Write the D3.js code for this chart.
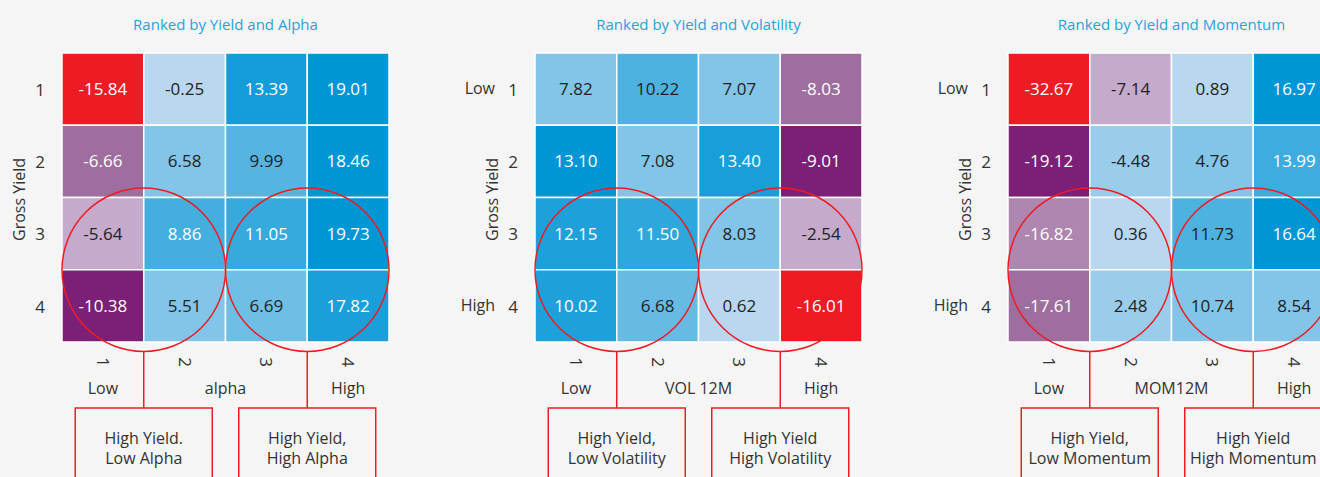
<!DOCTYPE html>
<html>
<head>
<meta charset="utf-8">
<script src="https://cdn.jsdelivr.net/npm/d3@7"></script>
<style>
  html, body { margin: 0; padding: 0; background: #f5f5f5; }
  svg { display: block; font-family: 'Open Sans', sans-serif; }
</style>
</head>
<body>
<div id="chart"></div>
<script>
// ranks on both axes
const ranks = ['1', '2', '3', '4'];

const titles = ['Ranked by Yield and Alpha', 'Ranked by Yield and Volatility', 'Ranked by Yield and Momentum'];
const xNames = ['alpha', 'VOL 12M', 'MOM12M'];
const showYEnds = [false, true, true];

// cell values, rows = gross yield rank 1..4, cols = factor rank 1..4
const alphaValues = [
  [-15.84, -0.25, 13.39, 19.01],
  [-6.66, 6.58, 9.99, 18.46],
  [-5.64, 8.86, 11.05, 19.73],
  [-10.38, 5.51, 6.69, 17.82]
];
const volValues = [
  [7.82, 10.22, 7.07, -8.03],
  [13.10, 7.08, 13.40, -9.01],
  [12.15, 11.50, 8.03, -2.54],
  [10.02, 6.68, 0.62, -16.01]
];
const momValues = [
  [-32.67, -7.14, 0.89, 16.97],
  [-19.12, -4.48, 4.76, 13.99],
  [-16.82, 0.36, 11.73, 16.64],
  [-17.61, 2.48, 10.74, 8.54]
];

// shade of each cell (-1 = worst, 1 = best)
const alphaShade = [
  [-1, 0, 0.89, 1],
  [-0.5, 0.29, 0.54, 1],
  [-0.25, 0.63, 0.71, 1],
  [-0.75, 0.29, 0.4, 0.86]
];
const volShade = [
  [0.29, 0.58, 0.29, -0.5],
  [1, 0.29, 0.87, -0.75],
  [0.84, 0.75, 0.29, -0.25],
  [0.84, 0.45, 0, -1]
];
const momShade = [
  [-1, -0.25, 0, 1],
  [-0.75, 0.17, 0.29, 0.66],
  [-0.4, 0, 0.58, 1],
  [-0.5, 0.17, 0.29, 0.29]
];

const boxLabels = [
  [['High Yield.', 'Low Alpha'], ['High Yield,', 'High Alpha']],
  [['High Yield,', 'Low Volatility'], ['High Yield', 'High Volatility']],
  [['High Yield,', 'Low Momentum'], ['High Yield', 'High Momentum']]
];

const panels = [
  { values: alphaValues, shade: alphaShade },
  { values: volValues, shade: volShade },
  { values: momValues, shade: momShade }
];

const width = 1320;
const height = 477;
const red = '#ed1c24';
const textDark = '#333';

const svg = d3.select('#chart')
  .append('svg')
  .attr('width', width)
  .attr('height', height);

svg.append('rect')
  .attr('width', width)
  .attr('height', height)
  .attr('fill', '#f5f5f5');

const colorScale = d3.scaleLinear()
  .domain([-1, -0.75, -0.5, -0.25, 0, 1])
  .range([red, '#7b1f77', '#9e6e9e', '#c5aacb', '#b9d8ef', '#0096d6']);

const gridW = 327;
const gridH = 289;
const panelStep = 473;

panels.forEach((p, i) => drawPanel(p, i));

function drawPanel(p, i) {
  const g = svg.append('g')
    .attr('transform', `translate(${62 + i * panelStep}, 53)`);

  const x = d3.scaleBand().domain(ranks).range([0, gridW]);
  const y = d3.scaleBand().domain(ranks).range([0, gridH]);
  const cw = x.bandwidth();
  const ch = y.bandwidth();

  const cells = [];
  p.values.forEach((row, r) => row.forEach((v, c) => {
    cells.push({ row: ranks[r], col: ranks[c], value: v, shade: p.shade[r][c] });
  }));

  g.selectAll('rect.cell')
    .data(cells)
    .enter()
    .append('rect')
    .attr('class', 'cell')
    .attr('x', d => x(d.col))
    .attr('y', d => y(d.row))
    .attr('width', cw)
    .attr('height', ch)
    .attr('fill', d => colorScale(d.shade))
    .attr('stroke', '#fff')
    .attr('stroke-width', 1.5);

  g.selectAll('text.val')
    .data(cells)
    .enter()
    .append('text')
    .attr('class', 'val')
    .attr('x', d => x(d.col) + cw / 2)
    .attr('y', d => y(d.row) + ch / 2)
    .attr('dy', '0.36em')
    .attr('text-anchor', 'middle')
    .attr('font-size', 17)
    .attr('fill', d => (d.shade < -0.3 || d.shade > 0.6) ? '#fff' : '#222')
    .text(d => d.value.toFixed(2));

  // title
  g.append('text')
    .attr('x', gridW / 2)
    .attr('y', -23)
    .attr('text-anchor', 'middle')
    .attr('font-size', 15)
    .attr('fill', '#27a2dc')
    .text(titles[i]);

  // y axis
  g.selectAll('text.ytick')
    .data(ranks)
    .enter()
    .append('text')
    .attr('class', 'ytick')
    .attr('x', -22)
    .attr('y', d => y(d) + ch / 2)
    .attr('dy', '0.4em')
    .attr('text-anchor', 'middle')
    .attr('font-size', 17)
    .attr('fill', textDark)
    .text(d => d);

  g.append('text')
    .attr('transform', `translate(-37, ${gridH / 2 + 2}) rotate(-90)`)
    .attr('text-anchor', 'middle')
    .attr('font-size', 16)
    .attr('fill', textDark)
    .text('Gross Yield');

  if (showYEnds[i]) {
    g.append('text')
      .attr('x', -40)
      .attr('y', y('1') + ch / 2)
      .attr('dy', '0.3em')
      .attr('text-anchor', 'end')
      .attr('font-size', 16)
      .attr('fill', textDark)
      .text('Low');
    g.append('text')
      .attr('x', -40)
      .attr('y', y('4') + ch / 2)
      .attr('dy', '0.3em')
      .attr('text-anchor', 'end')
      .attr('font-size', 16)
      .attr('fill', textDark)
      .text('High');
  }

  // x axis
  g.selectAll('text.xtick')
    .data(ranks)
    .enter()
    .append('text')
    .attr('class', 'xtick')
    .attr('transform', d => `translate(${x(d) + cw / 2}, ${gridH + 20}) rotate(90)`)
    .attr('dy', '0.36em')
    .attr('text-anchor', 'middle')
    .attr('font-size', 17)
    .attr('fill', textDark)
    .text(d => d);

  const xLabelY = gridH + 52;
  g.append('text')
    .attr('x', x('1') + cw / 2)
    .attr('y', xLabelY)
    .attr('text-anchor', 'middle')
    .attr('font-size', 16)
    .attr('fill', textDark)
    .text('Low');
  g.append('text')
    .attr('x', gridW / 2)
    .attr('y', xLabelY)
    .attr('text-anchor', 'middle')
    .attr('font-size', 16)
    .attr('fill', textDark)
    .text(xNames[i]);
  g.append('text')
    .attr('x', x('4') + cw / 2)
    .attr('y', xLabelY)
    .attr('text-anchor', 'middle')
    .attr('font-size', 16)
    .attr('fill', textDark)
    .text('High');

  // circles round the high yield corners, with callout boxes
  const centers = [x('2'), x('4')];
  const cy = y('4');
  const r = cw;
  const boxTop = 355;
  const boxW = 137;

  centers.forEach((cx, k) => {
    g.append('circle')
      .attr('cx', cx)
      .attr('cy', cy)
      .attr('r', r)
      .attr('fill', 'none')
      .attr('stroke', red)
      .attr('stroke-width', 1.5);

    g.append('line')
      .attr('x1', cx)
      .attr('x2', cx)
      .attr('y1', cy + r)
      .attr('y2', boxTop)
      .attr('stroke', red)
      .attr('stroke-width', 1.5);

    g.append('rect')
      .attr('x', cx - boxW / 2)
      .attr('y', boxTop)
      .attr('width', boxW)
      .attr('height', 100)
      .attr('fill', 'none')
      .attr('stroke', red)
      .attr('stroke-width', 1.5);

    g.selectAll(null)
      .data(boxLabels[i][k])
      .enter()
      .append('text')
      .attr('x', cx)
      .attr('y', (d, j) => boxTop + 36 + j * 20)
      .attr('text-anchor', 'middle')
      .attr('font-size', 16)
      .attr('fill', textDark)
      .text(d => d);
  });
}
</script>
</body>
</html>
